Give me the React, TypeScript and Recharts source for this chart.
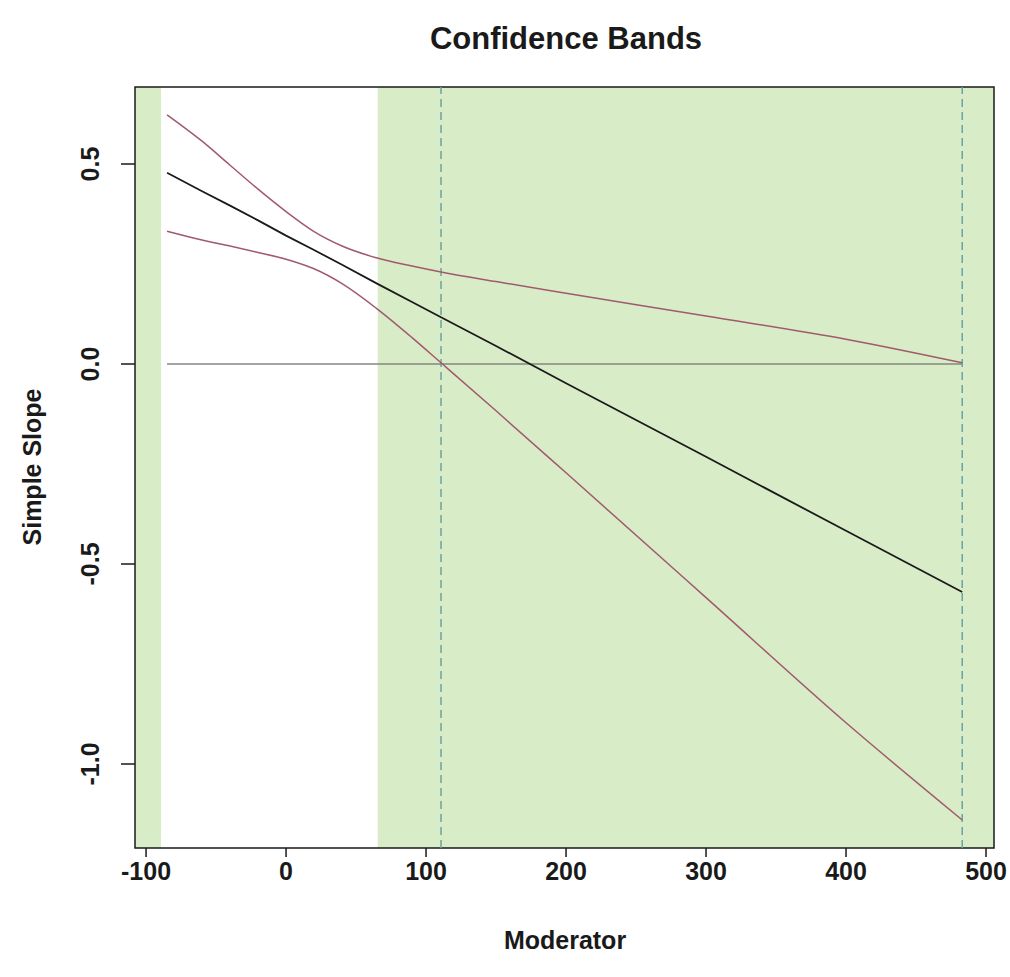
import React from "react";
import {
  ComposedChart,
  Line,
  ReferenceArea,
  ReferenceLine,
  XAxis,
  YAxis,
} from "recharts";

const modX = [-85, -60, -40, -20, 0, 20, 40, 65, 90, 110.7, 150, 200, 300, 400, 483];
const slope = [0.478, 0.432, 0.396, 0.359, 0.321, 0.285, 0.248, 0.201, 0.155, 0.117, 0.045, -0.048, -0.232, -0.417, -0.57];
const upper = [0.623, 0.557, 0.497, 0.437, 0.381, 0.331, 0.295, 0.265, 0.245, 0.23, 0.206, 0.177, 0.12, 0.062, 0.003];
const lower = [0.332, 0.31, 0.295, 0.279, 0.262, 0.238, 0.201, 0.138, 0.066, 0.003, -0.117, -0.272, -0.584, -0.897, -1.14];

const zeroLine = [
  { x: -85, y: 0 },
  { x: 483, y: 0 },
];

// Johnson-Neyman bounds + shaded regions
const jnBounds = [110.7, 483];
const sigRegions: [number, number][] = [
  [-107.9, -89.3],
  [65.5, 505.7],
];

const xTicks = [-100, 0, 100, 200, 300, 400, 500];
const yTicks = [0.5, 0, -0.5, -1.0];
const X_DOM: [number, number] = [-107.9, 505.7];
const Y_DOM: [number, number] = [-1.21, 0.6925];

const C = {
  green: "#d9ecc8",
  band: "#a05a6c",
  zero: "#85877f",
  dash: "#6aa3a0",
  ink: "#1a1a1a",
};
const FONT = "'Liberation Sans', Arial, sans-serif";

const data = modX.map((x, i) => ({ x, slope: slope[i], upper: upper[i], lower: lower[i] }));

const XTick = ({ x, payload }: any) => (
  <text x={x} y={880} textAnchor="middle" fontFamily={FONT} fontWeight="bold" fontSize={25} fill={C.ink}>
    {payload.value}
  </text>
);

const YTick = ({ y, payload }: any) => (
  <text
    x={99}
    y={y}
    transform={`rotate(-90, 99, ${y})`}
    textAnchor="middle"
    fontFamily={FONT}
    fontWeight="bold"
    fontSize={25}
    fill={C.ink}
  >
    {Number(payload.value).toFixed(1)}
  </text>
);

export default function App() {
  return (
    <div style={{ position: "absolute", left: 0, top: 0, width: 1010, height: 977, background: "#fff" }}>
      <svg style={{ position: "absolute", left: 0, top: 0 }} width={1010} height={977}>
        <text x={566} y={49} textAnchor="middle" fontFamily={FONT} fontWeight="bold" fontSize={31} fill={C.ink}>
          Confidence Bands
        </text>
        <text x={565} y={949} textAnchor="middle" fontFamily={FONT} fontWeight="bold" fontSize={25} fill={C.ink}>
          Moderator
        </text>
        <text
          x={41}
          y={467}
          transform="rotate(-90, 41, 467)"
          textAnchor="middle"
          fontFamily={FONT}
          fontWeight="bold"
          fontSize={25}
          fill={C.ink}
        >
          Simple Slope
        </text>
      </svg>
      <div style={{ position: "absolute", left: 0, top: 0 }}>
        <ComposedChart width={1010} height={977} data={data} margin={{ top: 87, right: 16, left: 0, bottom: 0 }}>
          {sigRegions.map(([a, b], i) => (
            <ReferenceArea key={i} x1={a} x2={b} y1={Y_DOM[0]} y2={Y_DOM[1]} fill={C.green} fillOpacity={1} stroke="none" ifOverflow="hidden" />
          ))}
          <XAxis
            dataKey="x"
            type="number"
            domain={X_DOM}
            ticks={xTicks}
            allowDataOverflow
            height={129}
            tickSize={9}
            axisLine={false}
            tickLine={{ stroke: C.ink, strokeWidth: 1.5 }}
            tick={<XTick />}
            interval={0}
          />
          <YAxis
            type="number"
            domain={Y_DOM}
            ticks={yTicks}
            allowDataOverflow
            width={135}
            tickSize={14}
            axisLine={false}
            tickLine={{ stroke: C.ink, strokeWidth: 1.5 }}
            tick={<YTick />}
            interval={0}
          />
          {jnBounds.map((b) => (
            <ReferenceLine key={b} x={b} stroke={C.dash} strokeWidth={1.5} strokeDasharray="8 5" />
          ))}
          <Line data={zeroLine} dataKey="y" stroke={C.zero} strokeWidth={1.3} dot={false} isAnimationActive={false} />
          <Line dataKey="upper" type="monotone" stroke={C.band} strokeWidth={1.5} dot={false} isAnimationActive={false} />
          <Line dataKey="lower" type="monotone" stroke={C.band} strokeWidth={1.5} dot={false} isAnimationActive={false} />
          <Line dataKey="slope" type="linear" stroke={C.ink} strokeWidth={1.8} dot={false} isAnimationActive={false} />
          <ReferenceArea x1={X_DOM[0]} x2={X_DOM[1]} y1={Y_DOM[0]} y2={Y_DOM[1]} fill="none" stroke={C.ink} strokeWidth={1.5} />
        </ComposedChart>
      </div>
    </div>
  );
}
